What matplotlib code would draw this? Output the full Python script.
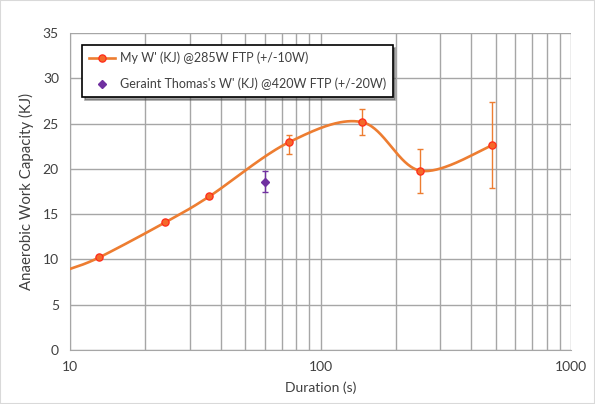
import numpy as np
import matplotlib
matplotlib.use("Agg")
import matplotlib.pyplot as plt
from matplotlib.ticker import FixedLocator, NullFormatter, LogLocator
from matplotlib.lines import Line2D

plt.rcParams['font.family'] = ['Lato', 'DejaVu Sans']

# Data
my_x = [13.1, 24.0, 36.0, 75.1, 146.9, 250.2, 485.0]
my_y = [10.23, 14.09, 16.96, 22.96, 25.15, 19.8, 22.6]
my_err_lo = [0.0, 0.0, 0.15, 1.35, 1.45, 2.5, 4.75]
my_err_hi = [0.0, 0.0, 0.15, 0.8, 1.5, 2.4, 4.8]
curve_start_x = [10.0]
curve_start_y = [8.95]

gt_x = [60.2]
gt_y = [18.6]
gt_err_lo = [1.2]
gt_err_hi = [1.2]

label_my = "My W' (KJ) @285W FTP (+/-10W)"
label_gt = "Geraint Thomas's W' (KJ) @420W FTP (+/-20W)"

orange = '#ED7D31'
purple = '#7030A0'
grid_c = '#A6A6A6'
text_c = '#404040'
mfc = '#F4692A'
mec = '#FF2A1A'

fig = plt.figure(figsize=(5.95, 4.04), dpi=100)
fig.patches.append(plt.Rectangle((0, 0), 1, 1, transform=fig.transFigure,
                                 fill=False, edgecolor='#D9D9D9', lw=1.5))
ax = fig.add_axes([70/595, 1-350/404, (571-70)/595, (350-33)/404])

# Smooth curve (Excel-like Bezier smoothing in display-space: log x, linear y)
cx = np.log10(np.array(curve_start_x + my_x))
cy = np.array(curve_start_y + my_y)
P = np.column_stack([cx, cy * (1/14.0)])
n = len(P)
pts = []
for i in range(n - 1):
    p0 = P[i - 1] if i > 0 else P[i]
    p1 = P[i]
    p2 = P[i + 1]
    p3 = P[i + 2] if i + 2 < n else P[i + 1]
    c1 = p1 + (p2 - p0) / 6.0
    c2 = p2 - (p3 - p1) / 6.0
    t = np.linspace(0, 1, 60)[:, None]
    seg = ((1-t)**3) * p1 + 3*((1-t)**2)*t*c1 + 3*(1-t)*t**2*c2 + t**3*p2
    pts.append(seg if i == 0 else seg[1:])
pts = np.vstack(pts)
sx = 10**pts[:, 0]
sy = pts[:, 1] * 14.0

ax.plot(sx, sy, color=orange, lw=1.9, zorder=3, solid_capstyle='round')
ax.errorbar(my_x, my_y, yerr=[my_err_lo, my_err_hi], fmt='none', ecolor=orange,
            elinewidth=1.0, capsize=2.5, capthick=1.0, zorder=3)
ax.plot(my_x, my_y, 'o', ms=5.2, mfc=mfc, mec=mec, mew=0.9, zorder=4)

ax.errorbar(gt_x, gt_y, yerr=[gt_err_lo, gt_err_hi], fmt='none', ecolor=purple,
            elinewidth=1.0, capsize=2.5, capthick=1.0, zorder=3)
ax.plot(gt_x, gt_y, 'D', ms=4.5, mfc=purple, mec=purple, zorder=4)

ax.set_xscale('log')
ax.set_xlim(10, 1000)
ax.set_ylim(0, 35)
ax.set_yticks(np.arange(0, 36, 5))
ax.xaxis.set_major_locator(FixedLocator([10, 100, 1000]))
ax.xaxis.set_minor_locator(LogLocator(base=10, subs=np.arange(2, 10)))
ax.xaxis.set_minor_formatter(NullFormatter())
ax.set_xticklabels(['10', '100', '1000'])

ax.grid(True, which='major', color=grid_c, lw=1.0, zorder=0)
ax.grid(True, which='minor', axis='x', color=grid_c, lw=1.0, zorder=0)
ax.set_axisbelow(True)
for s in ['top', 'right']:
    ax.spines[s].set_visible(False)
for s in ['left', 'bottom']:
    ax.spines[s].set_color(grid_c)
ax.tick_params(which='both', length=0, colors=text_c, labelsize=10, pad=8)

ax.set_xlabel('Duration (s)', fontsize=10, color=text_c, labelpad=6)
ax.set_ylabel('Anaerobic Work Capacity (KJ)', fontsize=10.8, color=text_c, labelpad=6)

h1 = Line2D([], [], color=orange, lw=1.9, marker='o', ms=5.2, mfc=mfc, mec=mec, mew=0.9)
h2 = Line2D([], [], color='none', marker='D', ms=4.5, mfc=purple, mec=purple)
leg = ax.legend([h1, h2], [label_my, label_gt], loc='upper left',
                bbox_to_anchor=((82-70)/501, (350-45)/317), fontsize=9,
                frameon=True, fancybox=False, shadow=True, edgecolor='black',
                framealpha=1, borderpad=0.55, labelspacing=1.05, handlelength=2.1,
                handletextpad=0.35, borderaxespad=0)
leg.get_frame().set_linewidth(1.2)
for t in leg.get_texts():
    t.set_color(text_c)

fig.savefig('out.png', dpi=100)
